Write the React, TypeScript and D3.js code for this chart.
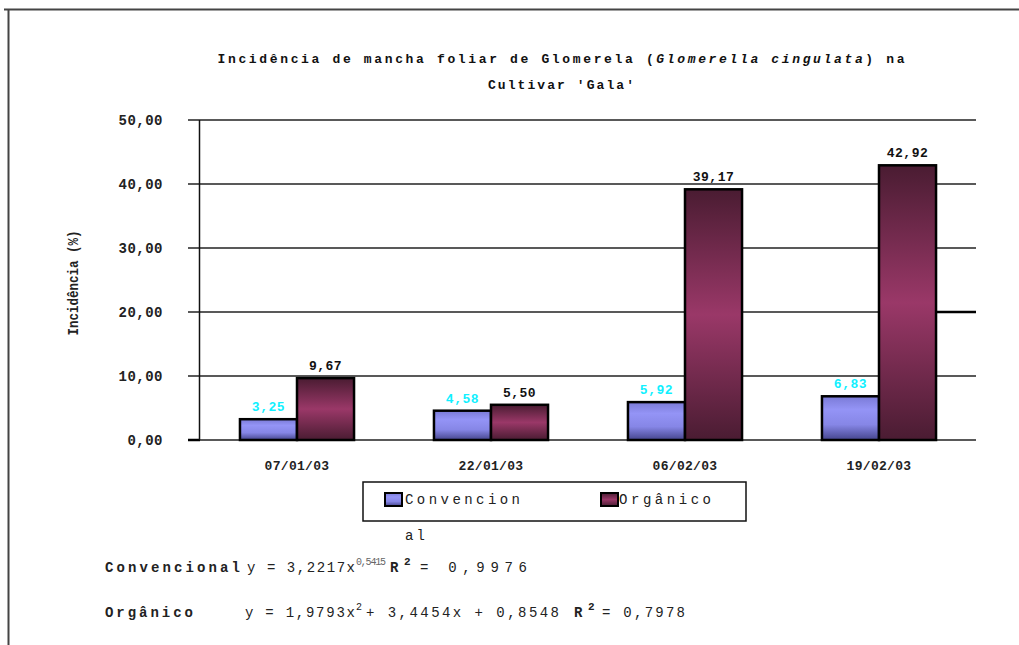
import React from "react";
import * as d3 from "d3";

const categories = ["07/01/03", "22/01/03", "06/02/03", "19/02/03"];
const convencional = [3.25, 4.58, 5.92, 6.83];
const organico = [9.67, 5.5, 39.17, 42.92];
const yTicks = [0, 10, 20, 30, 40, 50];
const seriesNames = ["Convencional", "Orgânico"];

const fmt = (v: number) => v.toFixed(2).replace(".", ",");
const MONO = "'Liberation Mono', 'DejaVu Sans Mono', monospace";

export default function App() {
  const W = 1019, H = 645;
  const left = 200, right = 976, top = 120, bottom = 440;
  const x = d3.scaleBand<string>().domain(categories).range([left, right]).paddingInner(0.412).paddingOuter(0.206);
  const xs = d3.scaleBand<string>().domain(seriesNames).range([0, x.bandwidth()]);
  const y = d3.scaleLinear().domain([0, 50]).range([bottom, top]);
  const series = [convencional, organico];
  const fills = ["url(#gConv)", "url(#gOrg)"];
  const labelColors = ["#10f0ff", "#111"];

  return (
    <svg width={W} height={H} style={{ position: "absolute", left: 0, top: 0, background: "#fff" }}>
      <defs>
        <linearGradient id="gConv" x1="0" y1="0" x2="0" y2="1">
          <stop offset="0" stopColor="#7a7ad6" />
          <stop offset="0.3" stopColor="#9494f6" />
          <stop offset="0.65" stopColor="#8686e6" />
          <stop offset="1" stopColor="#45458c" />
        </linearGradient>
        <linearGradient id="gOrg" x1="0" y1="0" x2="0" y2="1">
          <stop offset="0" stopColor="#4a1c32" />
          <stop offset="0.5" stopColor="#9a3868" />
          <stop offset="1" stopColor="#4a1c32" />
        </linearGradient>
      </defs>
      {/* outer frame */}
      <line x1={4} x2={W} y1={9.5} y2={9.5} stroke="#444" strokeWidth={2} />
      <line x1={8.5} x2={8.5} y1={9} y2={H} stroke="#444" strokeWidth={2} />

      {/* title */}
      <text x={561} y={63} textAnchor="middle" fontFamily={MONO} fontWeight="bold" fontSize={13} fill="#111" textLength={687} lengthAdjust="spacing">
        Incidência de mancha foliar de Glomerela (<tspan fontStyle="italic">Glomerella cingulata</tspan>) na
      </text>
      <text x={561} y={89} textAnchor="middle" fontFamily={MONO} fontWeight="bold" fontSize={13} fill="#111" textLength={146} lengthAdjust="spacing">
        Cultivar 'Gala'
      </text>

      {/* gridlines */}
      {yTicks.map((t) => (
        <g key={t}>
          <line x1={188} x2={right} y1={y(t)} y2={y(t)} stroke="#222" strokeWidth={1.3} />
          <text x={163} y={y(t) + 5} textAnchor="end" fontFamily={MONO} fontWeight="bold" fontSize={14} fill="#222" letterSpacing={0.5}>
            {fmt(t)}
          </text>
        </g>
      ))}
      <line x1={937} x2={right} y1={y(20)} y2={y(20)} stroke="#000" strokeWidth={2.5} />
      <line x1={188} x2={200} y1={bottom} y2={bottom} stroke="#000" strokeWidth={2.5} />
      <line x1={199.5} x2={199.5} y1={top} y2={bottom} stroke="#111" strokeWidth={1.5} />

      {/* y title */}
      <text transform={`translate(78,283) rotate(-90)`} textAnchor="middle" fontFamily={MONO} fontWeight="bold" fontSize={15} fill="#222" textLength={105} lengthAdjust="spacingAndGlyphs">
        Incidência (%)
      </text>

      {/* bars */}
      {categories.map((c, i) => (
        <g key={c}>
          {series.map((s, j) => {
            const bx = (x(c) as number) + (xs(seriesNames[j]) as number);
            const bw = xs.bandwidth();
            const by = y(s[i]);
            return (
              <g key={j}>
                <rect x={bx} y={by} width={bw} height={bottom - by} fill={fills[j]} stroke="#000" strokeWidth={2.5} />
                <text x={bx + bw / 2} y={by - 8} textAnchor="middle" fontFamily={MONO} fontWeight="bold" fontSize={13} fill={labelColors[j]} letterSpacing={0.5}>
                  {fmt(s[i])}
                </text>
              </g>
            );
          })}
          <text x={(x(c) as number) + x.bandwidth() / 2} y={470} textAnchor="middle" fontFamily={MONO} fontWeight="bold" fontSize={13} fill="#222" letterSpacing={0.3}>
            {c}
          </text>
        </g>
      ))}

      {/* legend */}
      <rect x={363} y={482} width={383} height={39} fill="#fff" stroke="#111" strokeWidth={1.5} />
      <rect x={385} y={493} width={17} height={13} fill="url(#gConv)" stroke="#000" strokeWidth={2} />
      <text x={405} y={504} fontFamily={MONO} fontSize={14} fill="#222" textLength={115} lengthAdjust="spacing">Convencion</text>
      <text x={405} y={540} fontFamily={MONO} fontSize={14} fill="#222" textLength={20} lengthAdjust="spacing">al</text>
      <rect x={601} y={493} width={17} height={13} fill="url(#gOrg)" stroke="#000" strokeWidth={2} />
      <text x={619} y={504} fontFamily={MONO} fontSize={14} fill="#222" textLength={92} lengthAdjust="spacing">Orgânico</text>

      {/* equations */}
      <text x={105} y={572} fontFamily={MONO} fontWeight="bold" fontSize={14} fill="#222" textLength={135} lengthAdjust="spacing">Convencional</text>
      <text x={247} y={572} fontFamily={MONO} fontSize={14} fill="#222" textLength={108} lengthAdjust="spacing">y = 3,2217x</text>
      <text x={356} y={565} fontFamily={MONO} fontSize={10} fill="#666" textLength={30} lengthAdjust="spacing">0,5415</text>
      <text x={390} y={572} fontFamily={MONO} fontWeight="bold" fontSize={14} fill="#222">R</text>
      <text x={404} y={565} fontFamily={MONO} fontWeight="bold" fontSize={11} fill="#222">2</text>
      <text x={420} y={572} fontFamily={MONO} fontSize={14} fill="#222" textLength={107} lengthAdjust="spacing">= 0,9976</text>

      <text x={105} y={617} fontFamily={MONO} fontWeight="bold" fontSize={14} fill="#222" textLength={88} lengthAdjust="spacing">Orgânico</text>
      <text x={245} y={617} fontFamily={MONO} fontSize={14} fill="#222" textLength={110} lengthAdjust="spacing">y = 1,9793x</text>
      <text x={356} y={610} fontFamily={MONO} fontSize={10} fill="#222">2</text>
      <text x={366} y={617} fontFamily={MONO} fontSize={14} fill="#222" textLength={193} lengthAdjust="spacing">+ 3,4454x + 0,8548</text>
      <text x={574} y={617} fontFamily={MONO} fontWeight="bold" fontSize={14} fill="#222">R</text>
      <text x={588} y={610} fontFamily={MONO} fontWeight="bold" fontSize={11} fill="#222">2</text>
      <text x={602} y={617} fontFamily={MONO} fontSize={14} fill="#222" textLength={83} lengthAdjust="spacing">= 0,7978</text>
    </svg>
  );
}
